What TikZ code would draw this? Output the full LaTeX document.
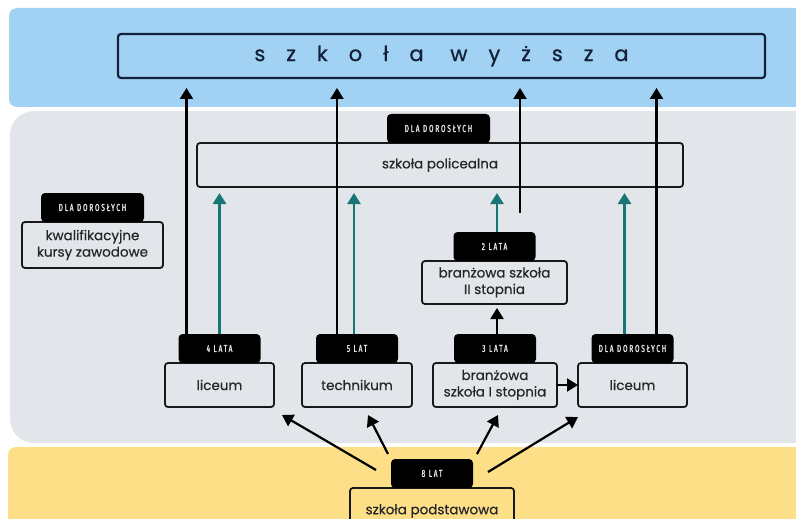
\documentclass[tikz,border=0pt]{standalone}
\usepackage{fontspec}
\setmainfont{Poppins}[FakeBold=0.5]
\newfontfamily\tagfont[FakeStretch=0.65,LetterSpace=18,FakeBold=1.5]{Fira Sans}
\newfontfamily\titlefont[LetterSpace=100,FakeBold=0.8]{Poppins}
\usetikzlibrary{arrows.meta, positioning, calc}
\definecolor{SkyBand}{RGB}{161,210,244}
\definecolor{GreyBand}{RGB}{226,230,235}
\definecolor{SandBand}{RGB}{253,223,136}
\definecolor{DarkTeal}{RGB}{24,118,116}
\definecolor{InkNavy}{RGB}{20,32,56}

\begin{document}
\begin{tikzpicture}[x=1pt, y=-1pt,
    box/.style={draw=black!90, line width=1.8pt, rounded corners=3pt, align=center, outer sep=0pt,
                inner sep=0pt, text=black!85, font=\fontsize{13.5}{16.5}\selectfont},
    tag/.style={fill=black, rounded corners=4pt, text=white!90!black, minimum width=82pt, minimum height=29pt,
                outer sep=0pt, inner sep=0pt, font=\tagfont\fontsize{10}{11}\selectfont},
    up/.style={line width=2.2pt, -{Triangle[length=11pt,width=13pt]}},
    upteal/.style={up, color=DarkTeal, line width=2.6pt},
    ]
    \useasboundingbox (0,0) rectangle (796,519);
    \clip (0,0) rectangle (796,519);
    % bands
    \fill[SkyBand, rounded corners=8pt] (9,8) rectangle (830,107);
    \fill[GreyBand, rounded corners=24pt] (10,111) rectangle (830,443);
    \fill[SandBand, rounded corners=8pt] (8,447) rectangle (830,560);

    \node[box, draw=InkNavy, line width=2.2pt, text=InkNavy, minimum width=647pt, minimum height=44pt,
          font=\titlefont\fontsize{21}{24}\selectfont] (wyzsza) at (441.5,56) {szkoła wyższa};
    \node[box, minimum width=486pt, minimum height=44pt] (polic) at (440,165) {szkoła policealna};
    \node[box, minimum width=141pt, minimum height=46pt] (kkz) at (92.5,245) {kwalifikacyjne\\kursy zawodowe};
    \node[box, minimum width=145pt, minimum height=43pt] (bII) at (494.5,282.5) {branżowa szkoła\\II stopnia};
    \node[box, minimum width=109pt, minimum height=44pt] (lic1) at (219.5,385) {liceum};
    \node[box, minimum width=110pt, minimum height=44pt] (tech) at (357,385) {technikum};
    \node[box, minimum width=124pt, minimum height=44pt] (bI) at (495,385) {branżowa\\szkoła I stopnia};
    \node[box, minimum width=109pt, minimum height=44pt] (lic2) at (632.5,385) {liceum};
    \node[box, minimum width=164pt, minimum height=46pt] (podst) at (432,511) {szkoła podstawowa};

    \node[tag, minimum width=103pt, above=0pt of polic, xshift=-1.5pt] (tpol) {DLA DOROSŁYCH};
    \node[tag, minimum width=103pt, above=0pt of kkz] (tkkz) {DLA DOROSŁYCH};
    \node[tag, above=0pt of bII] (t2) {2 LATA};
    \node[tag, above=0pt of lic1] (t4) {4 LATA};
    \node[tag, above=0pt of tech] (t5) {5 LAT};
    \node[tag, above=0pt of bI] (t3) {3 LATA};
    \node[tag, above=0pt of lic2] (tD) {DLA DOROSŁYCH};
    \node[tag, above=0pt of podst] (t8) {8 LAT};

    % up to szkola wyzsza
    \draw[up, shorten >=10pt] ([xshift=-33pt]t4.north) -- ([xshift=-33pt]t4.north |- wyzsza.south);
    \draw[up, shorten >=10pt] ([xshift=-20pt]t5.north) -- ([xshift=-20pt]t5.north |- wyzsza.south);
    \draw[up, shorten >=10pt] ([xshift=24pt]tD.north) -- ([xshift=24pt]tD.north |- wyzsza.south);
    \coordinate (brk) at (520,213);
    \draw[up, shorten >=10pt] (brk) -- (brk |- wyzsza.south);
    % up to policealna
    \draw[upteal, shorten >=6pt] (t4.north) -- (t4.north |- polic.south);
    \draw[upteal, shorten >=6pt] ([xshift=-3pt]t5.north) -- ([xshift=-3pt]t5.north |- polic.south);
    \draw[upteal, shorten >=6pt] ([xshift=2.5pt]t2.north) -- ([xshift=2.5pt]t2.north |- polic.south);
    \draw[upteal, shorten >=6pt] ([xshift=-8pt]tD.north) -- ([xshift=-8pt]tD.north |- polic.south);
    % branzowa
    \draw[up, shorten >=4pt] ([xshift=2pt]t3.north) -- ([xshift=2pt]t3.north |- bII.south);
    \draw[up] (bI.east) -- (lic2.west);
    % from szkola podstawowa
    \draw[up] ($(t8.west)+(-15,-3.5)$) -- ($(lic1.south east)+(8,8)$);
    \draw[up] ($(t8.north west)+(-3,-5)$) -- ($(tech.south)+(11,8)$);
    \draw[up] ($(t8.north east)+(4,-5)$) -- ($(bI.south)+(3,8)$);
    \draw[up] ($(t8.east)+(15,-1.5)$) -- ($(lic2.south west)+(0,10)$);
\end{tikzpicture}
\end{document}
